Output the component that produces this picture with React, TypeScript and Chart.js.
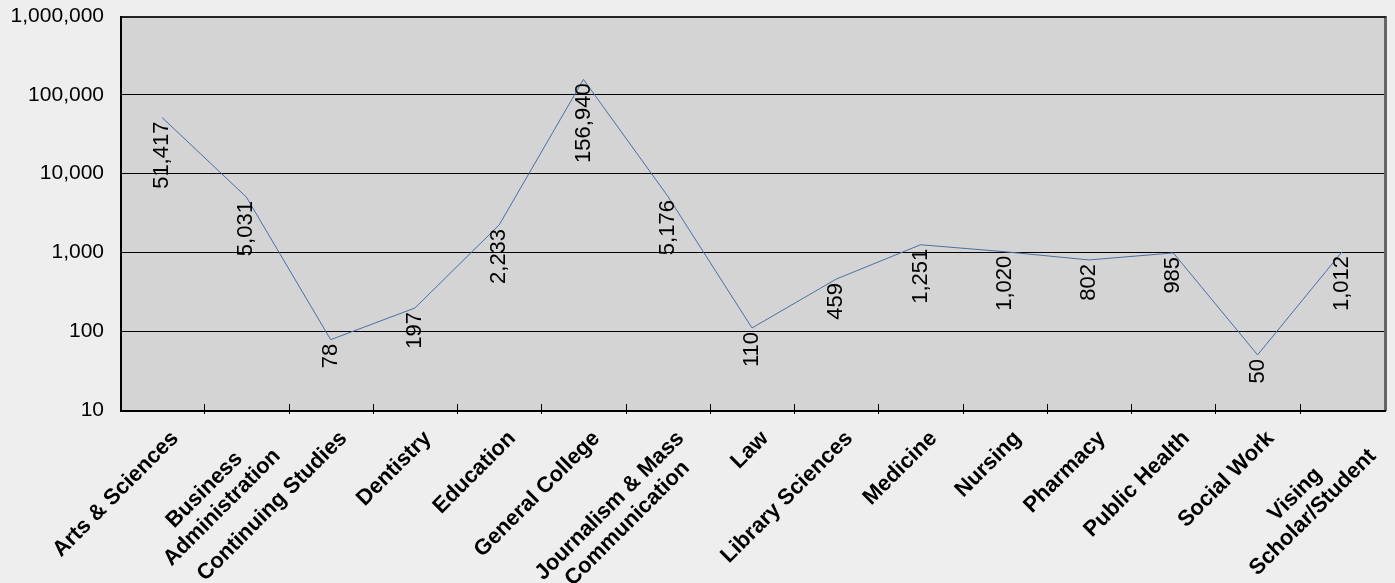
import React, { useEffect, useRef } from "react";
import { Chart, registerables } from "chart.js";

Chart.register(...registerables);

const categories: string[][] = [
  ["Arts & Sciences"],
  ["Business", "Administration"],
  ["Continuing Studies"],
  ["Dentistry"],
  ["Education"],
  ["General College"],
  ["Journalism & Mass", "Communication"],
  ["Law"],
  ["Library Sciences"],
  ["Medicine"],
  ["Nursing"],
  ["Pharmacy"],
  ["Public Health"],
  ["Social Work"],
  ["Vising", "Scholar/Student"],
];

const enrollment: number[] = [
  51417, 5031, 78, 197, 2233, 156940, 5176, 110, 459, 1251, 1020, 802, 985, 50, 1012,
];

const yTicks: number[] = [10, 100, 1000, 10000, 100000, 1000000];

const fmt = (v: number) => v.toLocaleString("en-US");

const FONT = "'Liberation Sans', Arial, sans-serif";

const decorPlugin = {
  id: "decor",
  beforeDraw(chart: any) {
    const { ctx, chartArea: a, width, height } = chart;
    ctx.save();
    ctx.fillStyle = "#eeeeee";
    ctx.fillRect(0, 0, width, height);
    ctx.fillStyle = "#d4d4d4";
    ctx.fillRect(a.left, a.top, a.right - a.left, a.bottom - a.top);
    ctx.restore();
  },
  afterDatasetsDraw(chart: any) {
    const { ctx, chartArea: a } = chart;
    const xs = chart.scales.x;
    ctx.save();
    // right and top border
    ctx.strokeStyle = "#666666";
    ctx.lineWidth = 3;
    ctx.beginPath();
    ctx.moveTo(a.right + 1.5, a.top);
    ctx.lineTo(a.right + 1.5, a.bottom + 1);
    ctx.stroke();
    ctx.strokeStyle = "#222222";
    ctx.lineWidth = 2;
    ctx.beginPath();
    ctx.moveTo(a.left, a.top + 1);
    ctx.lineTo(a.right + 2, a.top + 1);
    ctx.stroke();
    // left and bottom axes
    ctx.strokeStyle = "#000000";
    ctx.lineWidth = 2;
    ctx.beginPath();
    ctx.moveTo(a.left + 1, a.top);
    ctx.lineTo(a.left + 1, a.bottom + 1);
    ctx.lineTo(a.right + 2, a.bottom + 1);
    ctx.stroke();
    // tick marks between categories
    ctx.lineWidth = 1;
    ctx.strokeStyle = "#000000";
    const n = categories.length;
    for (let i = 1; i < n; i++) {
      const x = Math.round((xs.getPixelForValue(i - 1) + xs.getPixelForValue(i)) / 2) + 0.5;
      ctx.beginPath();
      ctx.moveTo(x, a.bottom - 6);
      ctx.lineTo(x, a.bottom + 4);
      ctx.stroke();
    }
    // category labels, rotated -45deg, lines centred in block
    ctx.fillStyle = "#000000";
    ctx.font = "bold 22px " + FONT;
    ctx.textAlign = "center";
    ctx.textBaseline = "middle";
    const lineH = 25;
    categories.forEach((lines, i) => {
      const cx = xs.getPixelForValue(i);
      const maxW = Math.max(...lines.map((l) => ctx.measureText(l).width));
      ctx.save();
      ctx.translate(cx + 13, a.bottom + 25);
      ctx.rotate(-Math.PI / 4);
      lines.forEach((l, k) => {
        ctx.fillText(l, -maxW / 2, k * lineH);
      });
      ctx.restore();
    });
    // data labels
    const meta = chart.getDatasetMeta(0);
    ctx.font = "22px " + FONT;
    ctx.textAlign = "right";
    ctx.textBaseline = "middle";
    meta.data.forEach((pt: any, i: number) => {
      ctx.save();
      ctx.translate(pt.x, pt.y + 4);
      ctx.rotate(-Math.PI / 2);
      ctx.fillText(fmt(enrollment[i]), 0, 0);
      ctx.restore();
    });
    ctx.restore();
  },
};

export default function App() {
  const ref = useRef<HTMLCanvasElement | null>(null);
  useEffect(() => {
    document.body.style.margin = "0";
    const chart = new Chart(ref.current as HTMLCanvasElement, {
      type: "line",
      data: {
        labels: categories.map((l) => l.join(" ")),
        datasets: [
          {
            data: enrollment,
            borderColor: "#4a6fa3",
            borderWidth: 1,
            pointRadius: 0,
            tension: 0,
            fill: false,
          },
        ],
      },
      options: {
        animation: false,
        responsive: false,
        layout: { padding: { top: 16, right: 11, left: 0, bottom: 0 } },
        plugins: { legend: { display: false }, tooltip: { enabled: false } },
        scales: {
          x: {
            type: "category",
            offset: true,
            grid: { display: false, offset: true },
            border: { display: false },
            afterFit: (s: any) => {
              s.height = 173;
              s.paddingLeft = 0;
              s.paddingRight = 0;
            },
            ticks: { display: false },
          },
          y: {
            type: "logarithmic",
            min: 10,
            max: 1000000,
            afterFit: (s: any) => {
              s.width = 120;
              s.paddingTop = 0;
              s.paddingBottom = 0;
            },
            afterBuildTicks: (s: any) => {
              s.ticks = yTicks.map((v) => ({ value: v }));
            },
            border: { display: false },
            grid: { color: "#000000", lineWidth: 1, drawTicks: false },
            ticks: {
              padding: 16,
              color: "#000000",
              font: { family: FONT, size: 21 },
              callback: (v: any) => fmt(Number(v)),
            },
          },
        },
      },
      plugins: [decorPlugin],
    });
    return () => chart.destroy();
  }, []);
  return (
    <div style={{ position: "absolute", left: 0, top: 0, width: 1395, height: 583 }}>
      <canvas ref={ref} width={1395} height={583} style={{ width: 1395, height: 583 }} />
    </div>
  );
}
